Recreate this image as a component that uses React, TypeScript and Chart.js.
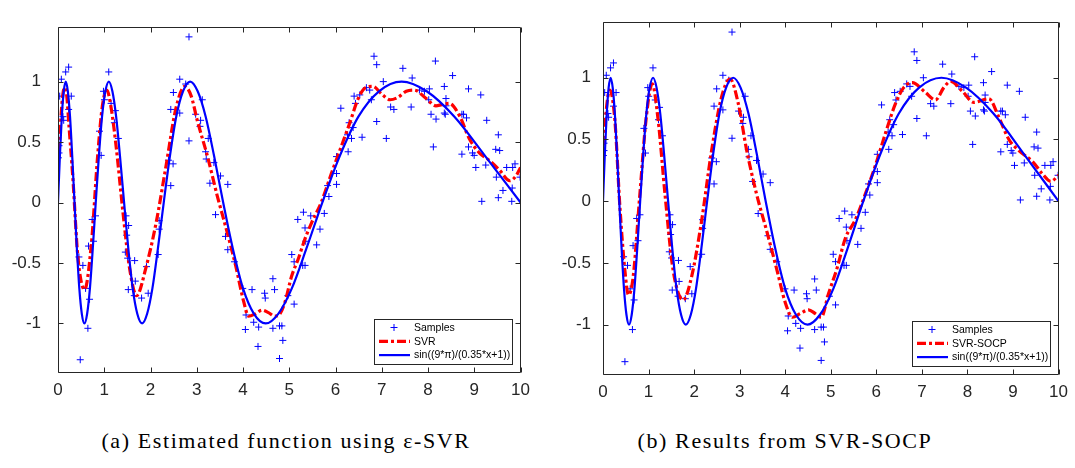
import React, { useEffect, useRef } from "react";
import { Chart, registerables } from "chart.js";

Chart.register(...registerables);

// ---------- data ----------
const sampleX = [
  0.008, 0.022, 0.022, 0.037, 0.072, 0.108, 0.123, 0.166, 0.23, 0.23, 0.287,
  0.452, 0.481, 0.538, 0.596, 0.646, 0.66, 0.682, 0.739, 0.768, 0.811, 0.897,
  0.933, 0.983, 1.004, 1.097, 1.147, 1.219, 1.241, 1.305, 1.456, 1.47, 1.484,
  1.506, 1.52, 1.527, 1.649, 1.657, 1.671, 1.807, 1.914, 1.95, 2.165, 2.187,
  2.187, 2.388, 2.438, 2.438, 2.488, 2.495, 2.632, 2.632, 2.761, 2.832, 2.832,
  2.976, 3.069, 3.083, 3.119, 3.191, 3.205, 3.248, 3.284, 3.37, 3.406, 3.514,
  3.621, 3.671, 3.671, 3.815, 3.994, 4.051, 4.066, 4.195, 4.231, 4.324, 4.338,
  4.467, 4.481, 4.646, 4.646, 4.682, 4.789, 4.789, 4.84, 4.861, 4.969, 5.054,
  5.105, 5.105, 5.184, 5.291, 5.306, 5.341, 5.341, 5.355, 5.464, 5.592, 5.664,
  5.757, 5.829, 5.857, 6.022, 6.022, 6.022, 6.115, 6.259, 6.273, 6.294, 6.345,
  6.38, 6.402, 6.431, 6.524, 6.574, 6.667, 6.739, 6.775, 6.832, 6.89, 6.89,
  7.033, 7.098, 7.191, 7.262, 7.456, 7.635, 7.657, 7.814, 7.922, 8.015, 8.029,
  8.065, 8.115, 8.159, 8.173, 8.352, 8.352, 8.373, 8.388, 8.388, 8.531, 8.732,
  8.732, 8.768, 8.832, 8.875, 8.875, 8.961, 8.997, 9.033, 9.14, 9.162, 9.248,
  9.269, 9.463, 9.477, 9.52, 9.52, 9.549, 9.62, 9.7, 9.81, 9.82, 9.83, 9.88,
  9.99,
];
const sampleY = [
  0.37, 0.41, 0.47, 0.88, 1.02, 0.71, 0.68, 1.08, 1.12, 0.77, 0.88,
  -0.45, -1.3, -0.52, -0.71, -1.04, -0.36, -0.8, -0.14, -0.32, -0.11, 0.59,
  0.39, 0.92, 0.85, 1.08, 0.82, 0.66, 0.76, 0.53, -0.41, -0.11, -0.27,
  -0.46, -0.72, -0.19, -0.77, -0.48, -0.65, -0.79, -0.53, -0.75, -0.43, -0.15,
  -0.22, 0.35, 0.77, 0.14, 0.32, 0.91, 1.02, 0.74, 0.98, 1.37, 0.51,
  0.73, 0.63, 0.68, 0.85, 0.42, 0.36, 0.53, 0.16, 0.33, -0.1, 0.22,
  -0.28, 0.15, -0.39, -0.49, -0.71, -1.05, -0.93, -0.72, -0.99, -1.19, -1.03,
  -0.75, -0.79, -0.63, -1.04, -0.72, -1.02, -1.29, -1.02, -1.14, -0.77, -0.43,
  -0.49, -0.84, -0.14, -0.52, -0.08, -0.52, -0.21, -0.32, -0.11, -0.35, -0.22,
  -0.09, 0.14, 0.05, 0.15, 0.24, 0.38, 0.78, 0.56, 0.42, 0.66, 0.53,
  0.62, 0.88, 0.82, 0.89, 0.54, 0.95, 0.93, 0.85, 1.21, 1.14, 0.67,
  1.0, 0.53, 0.79, 0.77, 1.11, 0.79, 1.03, 0.93, 0.92, 0.85, 0.94,
  0.73, 0.46, 1.17, 0.69, 0.96, 0.74, 0.73, 0.86, 0.8, 1.05, 0.73,
  0.4, 0.73, 0.7, 0.94, 0.46, 0.41, 0.39, 0.29, 0.89, 0.01, 0.31,
  0.68, 0.44, 0.21, 0.56, 0.04, 0.43, 0.1, 0.29, 0.01, 0.12, 0.29, 0.32,
  0.21,
];

// true function curve, read at 1/16-cycle points
const trueX = [
  0, 0.04, 0.082, 0.124, 0.168, 0.213, 0.26, 0.308, 0.357, 0.408, 0.461,
  0.515, 0.571, 0.63, 0.69, 0.752, 0.816, 0.883, 0.952, 1.024, 1.099, 1.176,
  1.257, 1.341, 1.429, 1.52, 1.615, 1.714, 1.818, 1.927, 2.041, 2.16, 2.286,
  2.418, 2.556, 2.703, 2.857, 3.02, 3.193, 3.377, 3.571, 3.779, 4.0, 4.236,
  4.49, 4.762, 5.055, 5.371, 5.714, 6.087, 6.494, 6.939, 7.429, 7.97, 8.571,
  9.244, 10,
];
const trueY = [
  0, 0.38, 0.71, 0.92, 1, 0.92, 0.71, 0.38, 0, -0.38, -0.71,
  -0.92, -1, -0.92, -0.71, -0.38, 0, 0.38, 0.71, 0.92, 1, 0.92,
  0.71, 0.38, 0, -0.38, -0.71, -0.92, -1, -0.92, -0.71, -0.38, 0,
  0.38, 0.71, 0.92, 1, 0.92, 0.71, 0.38, 0, -0.38, -0.71, -0.92,
  -1, -0.92, -0.71, -0.38, 0, 0.38, 0.71, 0.92, 1, 0.92, 0.71,
  0.38, 0,
];

// (a) epsilon-SVR estimate
const svrX = [
  0, 0.05, 0.1, 0.144, 0.19, 0.24, 0.32, 0.43, 0.574, 0.72, 0.86, 0.96,
  1.055, 1.15, 1.255, 1.41, 1.55, 1.7, 1.9, 2.12, 2.33, 2.55, 2.74, 2.88,
  3.01, 3.24, 3.44, 3.66, 3.84, 4.015, 4.12, 4.27, 4.41, 4.55, 4.69, 4.8,
  4.91, 5.05, 5.2, 5.34, 5.48, 5.7, 5.91, 6.13, 6.31, 6.49, 6.65, 6.81,
  6.99, 7.18, 7.35, 7.53, 7.7, 7.96, 8.17, 8.3, 8.46, 8.69, 8.89, 9.11,
  9.32, 9.54, 9.77, 9.9, 10,
];
const svrY = [
  0.27, 0.62, 0.88, 0.95, 0.88, 0.62, 0.21, -0.45, -0.72, -0.35, 0.4, 0.8,
  0.93, 0.78, 0.47, -0.1, -0.55, -0.77, -0.54, -0.17, 0.29, 0.78, 0.96, 0.88,
  0.68, 0.37, 0.06, -0.25, -0.52, -0.82, -0.94, -0.92, -0.89, -0.91, -0.94, -0.92,
  -0.82, -0.61, -0.46, -0.3, -0.17, 0.01, 0.24, 0.47, 0.66, 0.86, 0.95, 0.96,
  0.9, 0.85, 0.87, 0.92, 0.93, 0.86, 0.8, 0.81, 0.82, 0.71, 0.53, 0.41,
  0.35, 0.27, 0.18, 0.22, 0.29,
];

// (b) SVR-SOCP estimate
const socpX = [
  0, 0.07, 0.15, 0.26, 0.37, 0.48, 0.56, 0.66, 0.81, 0.95, 1.08, 1.21,
  1.36, 1.54, 1.76, 1.94, 2.16, 2.38, 2.6, 2.79, 2.97, 3.15, 3.37, 3.6,
  3.82, 4.0, 4.16, 4.33, 4.51, 4.66, 4.79, 4.95, 5.14, 5.32, 5.54, 5.76,
  5.98, 6.2, 6.42, 6.6, 6.79, 7.08, 7.3, 7.48, 7.63, 7.89, 8.14, 8.47,
  8.69, 8.91, 9.13, 9.43, 9.65, 9.83, 10,
];
const socpY = [
  0.31, 0.73, 0.9, 0.66, -0.04, -0.56, -0.76, -0.62, 0.06, 0.68, 0.95, 0.66,
  0.06, -0.56, -0.8, -0.62, -0.17, 0.4, 0.84, 0.99, 0.79, 0.42, 0.06, -0.25,
  -0.56, -0.82, -0.94, -0.91, -0.88, -0.91, -0.94, -0.75, -0.54, -0.3, -0.15, 0.06,
  0.29, 0.55, 0.79, 0.92, 0.96, 0.88, 0.82, 0.92, 0.97, 0.89, 0.8, 0.83,
  0.68, 0.5, 0.41, 0.32, 0.22, 0.16, 0.21,
];

const xTicks = [0, 1, 2, 3, 4, 5, 6, 7, 8, 9, 10];
const xTickLabels = ["0", "1", "2", "3", "4", "5", "6", "7", "8", "9", "10"];
const yTicks = [-1, -0.5, 0, 0.5, 1];
const yTickLabels = ["-1", "-0.5", "0", "0.5", "1"];

const samplesLabel = "Samples";
const trueLabel = "sin((9*\u03c0)/(0.35*x+1))";
const captionA = "(a) Estimated function using \u03b5-SVR";
const captionB = "(b) Results from SVR-SOCP";

// ---------- styles ----------
const AXIS_COLOR = "#262626";
const BLUE = "#0000ff";
const RED = "#ff0000";
const SANS = "'Liberation Sans', Arial, Helvetica, sans-serif";
const RED_DASH = [9, 3, 3, 3];

const framePlugin = {
  id: "matlabFrame",
  afterDraw(chart: any) {
    const { ctx, chartArea: a, scales } = chart;
    const xs = scales.x;
    const ys = scales.y;
    const L = Math.round(a.left) + 0.5;
    const R = Math.round(a.right) - 0.5;
    const T = Math.round(a.top) + 0.5;
    const B = Math.round(a.bottom) - 0.5;
    ctx.save();
    ctx.strokeStyle = AXIS_COLOR;
    ctx.lineWidth = 1;
    ctx.setLineDash([]);
    ctx.beginPath();
    ctx.rect(L, T, R - L, B - T);
    ctx.stroke();
    ctx.beginPath();
    const tl = 5;
    for (const v of xTicks) {
      const px = Math.round(xs.getPixelForValue(v)) + 0.5;
      ctx.moveTo(px, B);
      ctx.lineTo(px, B - tl);
      ctx.moveTo(px, T);
      ctx.lineTo(px, T + tl);
    }
    for (const v of yTicks) {
      const py = Math.round(ys.getPixelForValue(v)) + 0.5;
      ctx.moveTo(L, py);
      ctx.lineTo(L + tl, py);
      ctx.moveTo(R, py);
      ctx.lineTo(R - tl, py);
    }
    ctx.stroke();

    // legend inside the axes (south-east)
    const ds = chart.data.datasets;
    const entries = [ds[2], ds[1], ds[0]];
    ctx.font = `10.5px ${SANS}`;
    const tw = Math.max(...entries.map((d: any) => ctx.measureText(d.label).width));
    const w = Math.round(40 + tw + 2);
    const h = 45;
    const bx = Math.round(a.right - 9 - w);
    const by = Math.round(a.bottom - 9 - h);
    ctx.fillStyle = "#ffffff";
    ctx.fillRect(bx, by, w, h);
    ctx.strokeStyle = AXIS_COLOR;
    ctx.strokeRect(bx + 0.5, by + 0.5, w, h);
    entries.forEach((d: any, i: number) => {
      const cy = by + 8.5 + i * 13.8;
      ctx.save();
      if (i === 0) {
        ctx.strokeStyle = BLUE;
        ctx.lineWidth = 1;
        ctx.beginPath();
        ctx.moveTo(bx + 20 - 3.5, cy);
        ctx.lineTo(bx + 20 + 3.5, cy);
        ctx.moveTo(bx + 20, cy - 3.5);
        ctx.lineTo(bx + 20, cy + 3.5);
        ctx.stroke();
      } else {
        ctx.strokeStyle = d.borderColor;
        ctx.lineWidth = d.borderWidth;
        ctx.setLineDash(d.borderDash || []);
        ctx.beginPath();
        ctx.moveTo(bx + 5, cy);
        ctx.lineTo(bx + 36, cy);
        ctx.stroke();
      }
      ctx.restore();
      ctx.fillStyle = "#000000";
      ctx.textBaseline = "middle";
      ctx.textAlign = "left";
      ctx.fillText(d.label, bx + 40, cy + 0.5);
    });
    ctx.restore();
  },
};

function pts(xs: number[], ys: number[]) {
  return xs.map((x, i) => ({ x, y: ys[i] }));
}

function Panel(props: {
  fitX: number[];
  fitY: number[];
  fitLabel: string;
  left: number;
  width: number;
  padRight: number;
  yPad: number;
}) {
  const ref = useRef<HTMLCanvasElement | null>(null);
  useEffect(() => {
    const chart = new Chart(ref.current as HTMLCanvasElement, {
      type: "scatter",
      data: {
        datasets: [
          {
            label: trueLabel,
            data: pts(trueX, trueY),
            showLine: true,
            borderColor: BLUE,
            borderWidth: 2.2,
            pointRadius: 0,
            cubicInterpolationMode: "monotone",
          } as any,
          {
            label: props.fitLabel,
            data: pts(props.fitX, props.fitY),
            showLine: true,
            borderColor: RED,
            borderWidth: 3.2,
            borderDash: RED_DASH,
            pointRadius: 0,
            cubicInterpolationMode: "monotone",
          } as any,
          {
            label: samplesLabel,
            data: pts(sampleX, sampleY),
            showLine: false,
            pointStyle: "cross",
            pointRadius: 3.5,
            pointBorderColor: BLUE,
            pointBackgroundColor: BLUE,
            pointBorderWidth: 1,
            borderColor: BLUE,
          } as any,
        ],
      },
      options: {
        animation: false,
        responsive: false,
        events: [],
        layout: {
          padding: { left: 0, right: props.padRight, top: 8, bottom: 0 },
          autoPadding: false,
        } as any,
        plugins: {
          legend: { display: false },
          tooltip: { enabled: false },
        },
        scales: {
          x: {
            type: "linear",
            min: 0,
            max: 10,
            afterBuildTicks: (s: any) => {
              s.ticks = xTicks.map((v) => ({ value: v }));
            },
            afterFit: (s: any) => {
              s.height = 25;
            },
            grid: { display: false, drawTicks: false },
            border: { display: false },
            ticks: {
              padding: 7,
              color: AXIS_COLOR,
              maxRotation: 0,
              font: { family: SANS, size: 17 },
              callback: (_v: any, i: number) => xTickLabels[i],
            },
          },
          y: {
            type: "linear",
            min: -1.408,
            max: 1.45,
            afterBuildTicks: (s: any) => {
              s.ticks = yTicks.map((v) => ({ value: v }));
            },
            afterFit: (s: any) => {
              s.width = 58;
            },
            grid: { display: false, drawTicks: false },
            border: { display: false },
            ticks: {
              padding: props.yPad,
              color: AXIS_COLOR,
              font: { family: SANS, size: 17 },
              callback: (_v: any, i: number) => yTickLabels[i],
            },
          },
        },
      } as any,
      plugins: [framePlugin],
    });
    return () => chart.destroy();
  }, []);
  return (
    <canvas
      ref={ref}
      width={props.width}
      height={400}
      style={{ position: "absolute", left: props.left, top: 0, width: props.width, height: 400 }}
    />
  );
}

const captionStyle: React.CSSProperties = {
  position: "absolute",
  top: 428,
  fontFamily: "'Liberation Serif', 'Times New Roman', serif",
  fontSize: 22,
  lineHeight: "26px",
  letterSpacing: "1.6px",
  color: "#000",
  whiteSpace: "nowrap",
  textAlign: "center",
};

export default function App() {
  return (
    <div style={{ position: "absolute", left: 0, top: 0, width: 1075, height: 468, background: "#fff", overflow: "hidden" }}>
      <Panel fitX={svrX} fitY={svrY} fitLabel="SVR" left={0} width={537} padRight={14} yPad={17} />
      <Panel fitX={socpX} fitY={socpY} fitLabel="SVR-SOCP" left={545} width={530} padRight={8} yPad={12} />
      <div style={{ ...captionStyle, left: 86, width: 400 }}>{captionA}</div>
      <div style={{ ...captionStyle, left: 585, width: 400 }}>{captionB}</div>
    </div>
  );
}
